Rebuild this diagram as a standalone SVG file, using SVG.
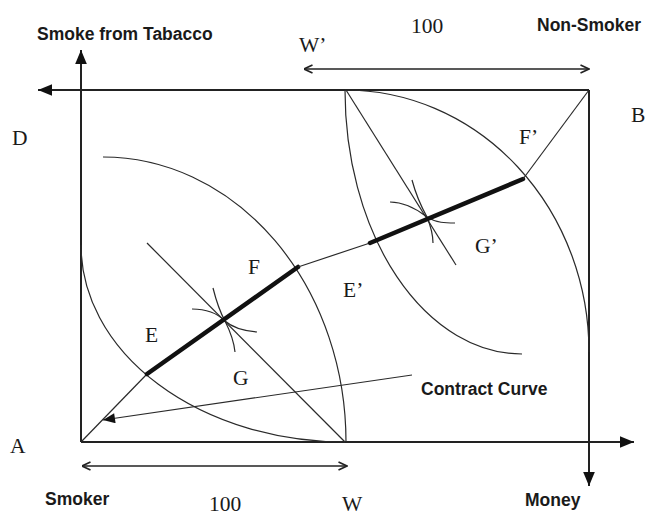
<svg xmlns="http://www.w3.org/2000/svg" width="645" height="516" viewBox="0 0 645 516">
  <style>
    .ax { stroke: #222; stroke-width: 2; fill: none; }
    .ln { stroke: #2a2a2a; stroke-width: 1.2; fill: none; }
    .thick { stroke: #111; stroke-width: 4.5; fill: none; stroke-linecap: round; }
    .dim { stroke: #222; stroke-width: 1.6; fill: none; }
    .sans { font-family: "Liberation Sans", Arial, sans-serif; font-weight: bold; font-size: 17.5px; fill: #1a1a1a; }
    .serif { font-family: "Liberation Serif", "Times New Roman", serif; font-size: 21.5px; fill: #1a1a1a; }
  </style>
  <defs>
    <marker id="fillArrow" viewBox="0 0 12 10" refX="12" refY="5" markerWidth="14" markerHeight="12" markerUnits="userSpaceOnUse" orient="auto">
      <path d="M0,0 L12,5 L0,10 z" fill="#111"/>
    </marker>
    <marker id="smallArrow" viewBox="0 0 12 10" refX="12" refY="5" markerWidth="13" markerHeight="10" markerUnits="userSpaceOnUse" orient="auto">
      <path d="M0,0 L12,5 L0,10 z" fill="#111"/>
    </marker>
    <marker id="openArrow" viewBox="0 0 10 10" refX="9.5" refY="5" markerWidth="10" markerHeight="10" markerUnits="userSpaceOnUse" orient="auto">
      <path d="M1,1 L9.5,5 L1,9" fill="none" stroke="#222" stroke-width="1.6"/>
    </marker>
  </defs>

  <rect width="645" height="516" fill="#ffffff"/>

  <g id="axes">
    <line class="ax" x1="81" y1="442" x2="81" y2="50" marker-end="url(#fillArrow)"/>
    <line class="ax" x1="589" y1="90" x2="38" y2="90" marker-end="url(#fillArrow)"/>
    <line class="ax" x1="589" y1="90" x2="589" y2="486" marker-end="url(#fillArrow)"/>
    <line class="ax" x1="81" y1="442" x2="634" y2="442" marker-end="url(#fillArrow)"/>
  </g>

  <g id="dimensions">
    <line class="dim" x1="340" y1="69" x2="304" y2="69" marker-end="url(#openArrow)"/>
    <line class="dim" x1="340" y1="69" x2="589" y2="69" marker-end="url(#openArrow)"/>
    <line class="dim" x1="200" y1="466" x2="82" y2="466" marker-end="url(#openArrow)"/>
    <line class="dim" x1="200" y1="466" x2="347" y2="466" marker-end="url(#openArrow)"/>
  </g>

  <g id="indifference-curves">
    <path class="ln" d="M81,245 A264,197 0 0 0 345,442"/>
    <path class="ln" d="M103,157 A243,285 0 0 1 346,442"/>
    <path class="ln" d="M345,90 A177,264 0 0 0 522,354"/>
    <path class="ln" d="M345,90 A244,262 0 0 1 589,352"/>
    <path class="ln" d="M192,309 C208,309 219,315 225,321 C233,328 245,331 257,332"/>
    <path class="ln" d="M213,288 C216,300 220,312 225,321 C230,331 234,342 235,352"/>
    <path class="ln" d="M390,202 C405,202 418,210 427,217 C436,223 446,223 455,223"/>
    <path class="ln" d="M412,180 C416,195 422,208 427,217 C431,227 433,236 433,243"/>
  </g>

  <g id="price-lines">
    <line class="ln" x1="147" y1="243" x2="345" y2="442"/>
    <line class="ln" x1="346" y1="90" x2="456" y2="265"/>
  </g>

  <g id="contract-curve">
    <line class="ln" x1="81" y1="442" x2="147" y2="374"/>
    <line class="thick" x1="147" y1="374" x2="298" y2="267"/>
    <line class="ln" x1="298" y1="267" x2="370" y2="243"/>
    <line class="thick" x1="370" y1="243" x2="523" y2="179"/>
    <line class="ln" x1="523" y1="179" x2="589" y2="90"/>
  </g>

  <g id="contract-pointer">
    <line class="ln" x1="412" y1="375" x2="103" y2="420" marker-end="url(#smallArrow)"/>
  </g>

  <g id="labels">
    <text class="sans" x="37" y="40">Smoke from Tabacco</text>
    <text class="sans" x="537" y="31">Non-Smoker</text>
    <text class="sans" x="421" y="395">Contract Curve</text>
    <text class="sans" x="45" y="505">Smoker</text>
    <text class="sans" x="525" y="506">Money</text>
    <text class="serif" x="299" y="52">W’</text>
    <text class="serif" x="411" y="33">100</text>
    <text class="serif" x="631" y="122">B</text>
    <text class="serif" x="12" y="145">D</text>
    <text class="serif" x="10" y="453">A</text>
    <text class="serif" x="209" y="511">100</text>
    <text class="serif" x="342" y="511">W</text>
    <text class="serif" x="145" y="342">E</text>
    <text class="serif" x="248" y="274">F</text>
    <text class="serif" x="233" y="385">G</text>
    <text class="serif" x="343" y="297">E’</text>
    <text class="serif" x="519" y="144">F’</text>
    <text class="serif" x="475" y="253">G’</text>
  </g>
</svg>
